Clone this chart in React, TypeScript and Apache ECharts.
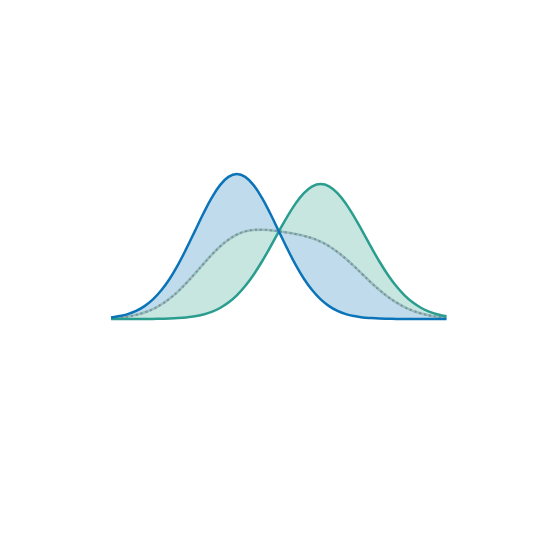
import React, { useEffect, useRef } from 'react';
import * as echarts from 'echarts';

// x positions shared by every curve
const xValues = [
  0, 0.25, 0.5, 0.75, 1, 1.25, 1.5, 1.75, 2, 2.25, 2.5, 2.75, 3, 3.25, 3.5, 3.75, 4, 4.25, 4.5, 4.75, 5,
  5.25, 5.5, 5.75, 6, 6.25, 6.5, 6.75, 7, 7.25, 7.5, 7.75, 8, 8.25, 8.5, 8.75, 9, 9.25, 9.5, 9.75, 10,
];

// left (blue) curve
const blueValues = [
  0.016, 0.029, 0.049, 0.081, 0.129, 0.196, 0.287, 0.403, 0.544, 0.706, 0.879, 1.053, 1.211, 1.339, 1.421,
  1.45, 1.421, 1.339, 1.211, 1.053, 0.879, 0.706, 0.544, 0.403, 0.287, 0.196, 0.129, 0.081, 0.049, 0.029,
  0.016, 0.009, 0.004, 0.002, 0.001, 0, 0, 0, 0, 0, 0,
];

// right (teal) curve
const tealValues = [
  0, 0, 0, 0, 0, 0.001, 0.003, 0.005, 0.009, 0.016, 0.027, 0.045, 0.071, 0.11, 0.164, 0.237, 0.33, 0.443,
  0.575, 0.721, 0.874, 1.022, 1.154, 1.259, 1.327, 1.35, 1.327, 1.259, 1.154, 1.022, 0.874, 0.721, 0.575,
  0.443, 0.33, 0.237, 0.164, 0.11, 0.071, 0.045, 0.027,
];

// dotted middle curve
const mixValues = [
  0.008, 0.015, 0.025, 0.041, 0.065, 0.099, 0.145, 0.204, 0.277, 0.361, 0.453, 0.549, 0.641, 0.725, 0.793,
  0.844, 0.876, 0.891, 0.893, 0.887, 0.877, 0.864, 0.849, 0.831, 0.807, 0.773, 0.728, 0.67, 0.602, 0.526,
  0.445, 0.365, 0.29, 0.223, 0.166, 0.119, 0.082, 0.055, 0.036, 0.023, 0.014,
];

// where the two curves cross
const crossX = 5;

const toPairs = (ys: number[]) => xValues.map((x, i) => [x, ys[i]]);

const App = () => {
  const chartRef = useRef<any>(null);

  useEffect(() => {
    const chart = echarts.init(chartRef.current, null, { renderer: 'svg' });

    const xMin = xValues[0];
    const xMax = xValues[xValues.length - 1];
    const split = (crossX - xMin) / (xMax - xMin);

    const blueLine = '#0b74b8';
    const tealLine = '#2a9d8f';
    const blueFill = '#c0dcec';
    const tealFill = '#c8e6e0';
    const none = 'rgba(255,255,255,0)';

    // hard colour switch at the crossing point
    const halves = (left: string, right: string) =>
      new echarts.graphic.LinearGradient(0, 0, 1, 0, [
        { offset: 0, color: left },
        { offset: split, color: left },
        { offset: split, color: right },
        { offset: 1, color: right },
      ]);

    const fill = (name: string, ys: number[], color: any, z: number) => ({
      name,
      type: 'line',
      data: toPairs(ys),
      smooth: 0.4,
      symbol: 'none',
      lineStyle: { width: 0 },
      areaStyle: { color, opacity: 1 },
      clip: false,
      z,
    });

    const line = (name: string, ys: number[], lineStyle: any, z: number) => ({
      name,
      type: 'line',
      data: toPairs(ys),
      smooth: 0.4,
      symbol: 'none',
      lineStyle,
      clip: false,
      z,
    });

    const option: any = {
      animation: false,
      grid: { left: 111, right: 110.5, top: 119, bottom: 238 },
      xAxis: { type: 'value', min: xMin, max: xMax, show: false },
      yAxis: { type: 'value', min: 0, max: 2, show: false },
      series: [
        // bands between each curve and the middle curve
        fill('blueFill', blueValues, blueFill, 1),
        fill('tealFill', tealValues, tealFill, 1),
        fill('mixFill', mixValues, halves(tealFill, blueFill), 2),
        // nothing below the lower of the two curves
        fill('tealClear', tealValues, halves('#ffffff', none), 3),
        fill('blueClear', blueValues, halves(none, '#ffffff'), 3),
        line('mixBase', mixValues, { width: 2.5, color: '#8fc0c3' }, 4),
        line('mixDots', mixValues, { width: 2, color: '#8a8c92', type: [2, 3] }, 5),
        line('teal', tealValues, { width: 2.5, color: tealLine }, 6),
        line('blue', blueValues, { width: 2.5, color: blueLine }, 7),
      ],
    };

    chart.setOption(option);

    return () => {
      chart.dispose();
    };
  }, []);

  return (
    <div
      ref={chartRef}
      style={{ position: 'fixed', left: 0, top: 0, width: '557px', height: '557px', background: '#fff' }}
    />
  );
};

export default App;
